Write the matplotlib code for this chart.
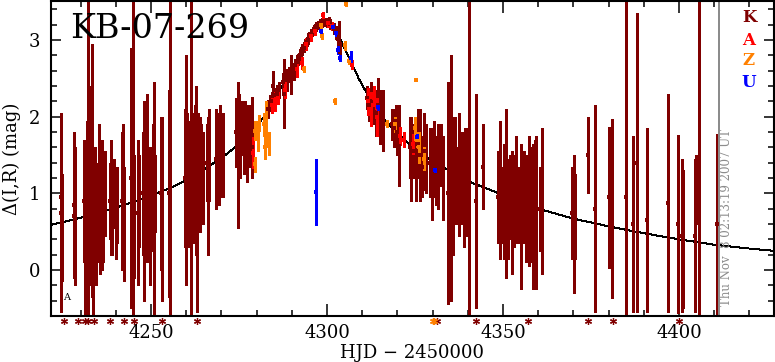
import matplotlib
matplotlib.use("Agg")
import matplotlib.pyplot as plt
from matplotlib.ticker import MultipleLocator

# ---- data (HJD-2450000, delta mag, error) ----
K_t = [4224.4, 4224.5, 4224.6, 4228.0, 4228.2, 4228.4, 4228.5,
       4231.0, 4231.3, 4231.8, 4232.2, 4232.6, 4233.0, 4233.3, 4233.6, 4234.0, 4234.4,
       4234.8, 4235.2, 4235.6, 4236.0, 4236.5, 4237.0,
       4238.3, 4238.6, 4239.0, 4239.5, 4240.0, 4240.4, 4241.7, 4242.0, 4242.3,
       4244.3, 4244.6, 4245.0, 4245.3, 4246.3, 4246.6,
       4247.8, 4248.1, 4248.4, 4248.7, 4249.0, 4249.3, 4249.6, 4249.9, 4250.2, 4250.5,
       4250.8, 4251.1, 4252.8, 4253.0, 4255.0, 4255.4,
       4259.6, 4259.9, 4260.2, 4260.5, 4260.8, 4261.1, 4261.5, 4261.8, 4262.1, 4262.4,
       4262.7, 4263.0, 4263.2, 4263.4, 4263.8, 4264.2, 4264.7,
       4266.0, 4266.2, 4266.5, 4268.5, 4268.8, 4269.2, 4269.6, 4270.0, 4270.5,
       4274.3, 4274.6, 4275.0, 4275.4, 4275.9, 4276.4, 4276.8, 4277.2, 4277.6, 4278.0,
       4278.4, 4278.6, 4278.8,
       4283.3, 4283.9, 4284.5, 4284.7, 4285.1, 4285.7, 4286.3, 4287.6, 4287.7, 4288.1,
       4288.6, 4289.1, 4289.8,
       4290.2, 4290.6, 4291.0, 4291.4, 4291.8, 4292.2, 4292.6, 4293.0, 4293.4, 4293.8,
       4294.2, 4294.6, 4295.0, 4295.4, 4295.8, 4296.2, 4296.6, 4297.0, 4297.5, 4298.0,
       4298.5, 4299.0, 4299.5, 4300.0, 4300.5, 4301.0, 4301.5, 4302.0, 4302.5, 4303.0,
       4303.5, 4303.8,
       4311.4, 4312.0, 4312.6, 4313.2, 4313.8, 4314.5, 4315.2, 4315.8,
       4318.5, 4319.0, 4319.5, 4320.0, 4320.5, 4320.6,
       4323.5, 4324.0, 4324.6, 4325.2, 4325.8, 4326.4, 4327.0, 4327.6, 4328.2,
       4329.2, 4329.8, 4330.4, 4331.0, 4331.6, 4332.3, 4333.0,
       4334.3, 4334.8, 4335.2, 4335.8, 4336.4, 4337.0, 4337.6,
       4338.2, 4338.8, 4339.3, 4339.8, 4340.4, 4342.3, 4344.3,
       4348.7, 4349.3, 4349.8, 4350.3, 4350.8, 4351.4, 4352.0, 4352.6, 4353.2, 4353.8,
       4354.5, 4355.2, 4355.9, 4356.6, 4357.3,
       4358.0, 4358.4, 4359.0, 4359.5, 4360.4, 4361.2,
       4369.6, 4370.2, 4370.6, 4374.1, 4376.1, 4380.1, 4380.9, 4384.9, 4387.0, 4388.0,
       4390.9, 4396.9, 4399.6, 4400.9, 4401.2, 4404.7, 4404.9, 4405.7, 4410.8]
K_m = [0.75, 0.95, 0.55, 0.85, 0.70, 1.05, 0.50,
       0.90, 0.50, 1.20, 1.50, 0.70, 1.20, 1.30, 0.40, 0.90, 0.60,
       0.75, 1.00, 0.55, 0.85, 0.70, 1.00,
       0.90, 0.95, 0.80, 1.00, 0.70, 0.85, 0.90, 1.10, 0.60,
       1.20, 0.85, 1.00, 0.70, 0.75, 0.90,
       1.00, 0.90, 1.10, 0.80, 1.20, 0.95, 0.70, 1.05, 0.85, 1.15,
       0.90, 1.00, 1.00, 0.80, 1.00, 1.20,
       1.20, 1.30, 1.45, 1.10, 1.35, 1.25, 1.00, 1.40, 1.20, 1.50,
       1.30, 0.60, 1.15, 1.45, 1.25, 1.35, 1.20,
       1.40, 1.10, 1.50, 1.45, 1.60, 1.35, 1.55, 1.40, 1.50,
       1.80, 1.50, 1.75, 1.60, 1.85, 1.70, 1.90, 1.65, 1.80, 1.75,
       1.85, 1.78, 1.60,
       2.10, 2.18, 2.20, 2.40, 2.28, 2.30, 2.35, 2.45, 2.30, 2.50,
       2.48, 2.55, 2.55,
       2.62, 2.58, 2.68, 2.72, 2.75, 2.80, 2.82, 2.88, 2.90, 2.95,
       2.98, 3.02, 3.05, 3.08, 3.10, 3.14, 3.15, 3.18, 3.20, 3.22,
       3.23, 3.25, 3.24, 3.23, 3.25, 3.21, 3.18, 3.15, 3.10, 3.02,
       3.05, 2.85,
       2.25, 2.15, 2.20, 2.10, 2.05, 2.15, 2.00, 1.95,
       1.90, 1.85, 1.95, 1.80, 1.62, 1.75,
       1.60, 1.45, 1.55, 1.40, 1.65, 1.50, 1.35, 1.55, 1.45,
       1.40, 1.25, 1.45, 1.30, 1.35, 1.50, 1.20,
       1.00, 0.90, 1.20, 1.10, 1.30, 1.10, 1.25,
       1.20, 1.05, 1.30, 1.15, 1.00, 0.90, 1.35,
       0.95, 1.05, 0.85, 0.90, 1.00, 0.80, 0.95, 0.75, 0.90, 1.05,
       0.85, 0.70, 0.95, 0.80, 0.90,
       0.85, 0.70, 0.90, 0.75, 0.80, 0.90,
       0.75, 0.60, 0.70, 1.50, 0.80, 0.95, 0.80, 0.95, 0.60, 1.40,
       0.65, 0.87, 0.60, 0.45, 0.40, 0.45, 1.05, 1.20, 0.60]
K_e = [1.30, 0.90, 0.70, 0.95, 0.60, 0.55, 0.70,
       0.80, 1.10, 0.75, 4.50, 0.90, 1.20, 1.65, 1.00, 0.70, 0.80,
       0.55, 0.90, 0.60, 0.85, 0.60, 0.55,
       0.50, 0.75, 0.60, 0.45, 0.55, 0.50, 0.90, 0.80, 0.75,
       1.70, 1.00, 4.50, 0.80, 0.95, 0.60,
       0.80, 1.30, 0.90, 0.60, 1.10, 0.50, 0.90, 0.45, 0.60, 0.75,
       1.55, 0.50, 1.00, 1.20, 1.35, 4.50,
       0.90, 1.50, 0.60, 0.80, 0.45, 0.70, 4.50, 0.55, 0.85, 0.65,
       1.10, 1.15, 0.50, 0.60, 0.75, 0.55, 0.60,
       0.50, 0.90, 0.60, 0.65, 0.45, 0.50, 0.60, 0.40, 0.55,
       0.45, 0.95, 0.55, 0.40, 0.35, 0.45, 0.30, 0.50, 0.35, 0.40,
       0.30, 0.48, 0.40,
       0.12, 0.10, 0.12, 0.20, 0.10, 0.12, 0.10, 0.12, 0.45, 0.10,
       0.14, 0.10, 0.25,
       0.08, 0.10, 0.07, 0.09, 0.07, 0.08, 0.06, 0.07, 0.06, 0.07,
       0.06, 0.07, 0.05, 0.06, 0.05, 0.06, 0.05, 0.06, 0.05, 0.05,
       0.06, 0.05, 0.05, 0.06, 0.05, 0.06, 0.05, 0.07, 0.08, 0.10,
       0.20, 0.12,
       0.15, 0.20, 0.25, 0.20, 0.30, 0.35, 0.35, 0.40,
       0.20, 0.25, 0.20, 0.30, 0.53, 0.20,
       0.40, 0.55, 0.35, 0.50, 0.45, 0.60, 0.40, 0.50, 0.45,
       0.45, 0.60, 0.50, 0.45, 0.55, 0.40, 0.55,
       1.45, 1.20, 1.60, 0.90, 0.70, 0.50, 0.80,
       0.60, 0.75, 0.55, 0.70, 4.50, 1.40, 0.56,
       0.60, 0.90, 0.50, 0.75, 1.10, 0.65, 0.55, 0.80, 0.60, 0.70,
       0.50, 0.95, 0.60, 0.70, 0.85,
       0.75, 0.95, 0.80, 1.00, 0.55, 0.95,
       0.60, 0.90, 0.55, 0.50, 1.35, 0.92, 1.17, 4.50, 1.15, 1.95,
       1.20, 1.42, 1.16, 1.00, 0.90, 1.00, 0.45, 4.50, 1.17]

A_t = [4279.0, 4284.3, 4285.2, 4286.0, 4288.0, 4291.5, 4292.8, 4294.0, 4295.5, 4296.5,
       4298.8, 4300.3, 4301.5, 4307.0, 4311.6, 4312.5, 4313.5, 4314.2, 4320.8, 4321.8,
       4324.5]
A_m = [1.53, 2.15, 2.20, 2.25, 2.35, 2.62, 2.70, 2.95, 3.05, 3.12,
       3.33, 3.22, 3.18, 2.68, 2.20, 2.10, 2.25, 2.00, 1.75, 1.70,
       1.65]
A_e = [0.20, 0.10, 0.12, 0.08, 0.10, 0.10, 0.08, 0.08, 0.06, 0.05,
       0.04, 0.05, 0.05, 0.06, 0.18, 0.22, 0.15, 0.25, 0.12, 0.10,
       0.13]

Z_t = [4279.5, 4279.6, 4280.3, 4280.7, 4282.0, 4282.5, 4282.7, 4283.5, 4293.5, 4298.3,
       4298.6, 4302.4, 4305.1, 4305.4, 4306.3, 4317.1, 4319.3, 4325.0, 4325.3, 4325.6,
       4326.2, 4327.5]
Z_m = [1.38, 1.82, 1.75, 1.92, 1.90, 1.60, 1.90, 1.65, 2.62, 3.20,
       3.05, 2.20, 2.93, 3.47, 2.73, 1.91, 1.90, 1.85, 2.48, 1.70,
       1.60, 1.45]
Z_e = [0.10, 0.12, 0.20, 0.10, 0.15, 0.15, 0.30, 0.15, 0.04, 0.05,
       0.04, 0.04, 0.06, 0.03, 0.04, 0.05, 0.10, 0.15, 0.02, 0.10,
       0.20, 0.15]

U_t = [4297.0, 4298.4, 4301.7, 4302.6, 4303.1, 4303.6, 4306.7, 4314.5, 4325.5, 4330.7]
U_m = [1.02, 3.12, 3.17, 3.09, 2.87, 2.77, 2.76, 2.13, 1.73, 1.30]
U_e = [0.43, 0.03, 0.04, 0.04, 0.05, 0.04, 0.10, 0.04, 0.05, 0.02]

# points fainter than the plot floor (drawn as asterisks under the axis)
K_low_t = [4225.4, 4229.3, 4231.3, 4232.1, 4233.8, 4238.4, 4242.3, 4245.2, 4253.1, 4263.2,
           4331.2, 4342.4, 4357.2, 4374.1, 4381.2, 4400.0]
Z_low_t = [4330.0, 4330.4]

# model light curve
model_t = [4221.6, 4230, 4240, 4250, 4256, 4260, 4265, 4270, 4275, 4280, 4283, 4286, 4290,
           4293, 4296, 4298, 4299.5, 4301, 4303, 4306, 4309, 4312, 4316, 4320, 4325, 4330,
           4335, 4340, 4350, 4360, 4370, 4380, 4390, 4400, 4410, 4420, 4427]
model_m = [0.59, 0.68, 0.81, 0.97, 1.08, 1.17, 1.31, 1.46, 1.64, 1.88, 2.05, 2.30, 2.62,
           2.88, 3.10, 3.22, 3.27, 3.22, 3.08, 2.80, 2.50, 2.25, 1.98, 1.78, 1.58, 1.42,
           1.29, 1.16, 0.98, 0.80, 0.67, 0.57, 0.48, 0.40, 0.33, 0.28, 0.25]

site_names = ["K", "A", "Z", "U"]
site_colors = ["#800000", "#ff0000", "#ff8000", "#0000ff"]
stamp_t = 4411.4
stamp_text = "Thu Nov  8 02:13:19 2007 UT"
XMIN, XMAX = 4221.6, 4427.0
YMIN, YMAX = -0.60, 3.51

plt.rcParams["font.family"] = ["DejaVu Serif", "DejaVu Sans"]
plt.rcParams["lines.antialiased"] = False

fig = plt.figure(figsize=(7.75, 3.62), dpi=100)
ax = fig.add_axes([0.0658, 0.1271, 0.9329, 0.8702])

ax.plot(model_t, model_m, color="black", lw=0.7, zorder=1)

datasets = [(K_t, K_m, K_e), (A_t, A_m, A_e), (Z_t, Z_m, Z_e), (U_t, U_m, U_e)]
for (t, m, e), col in zip(datasets, site_colors):
    ax.errorbar(t, m, yerr=e, fmt="s", ms=2.2, mew=0, color=col, ecolor=col,
                elinewidth=1.0, capsize=1.6, capthick=1.0, zorder=2)

y_low = YMIN - 0.07
ax.plot(K_low_t, [y_low] * len(K_low_t), ls="none", marker=(6, 2, 0), ms=5, mew=0.9,
        color=site_colors[0], clip_on=False)
ax.plot(Z_low_t, [y_low] * len(Z_low_t), ls="none", marker=(6, 2, 0), ms=5, mew=0.9,
        color=site_colors[2], clip_on=False)

ax.axvline(stamp_t, color="#8c8c8c", lw=1.3)
ax.text(0.935, 0.032, stamp_text, transform=ax.transAxes, rotation=90, ha="center",
        va="bottom", fontsize=8.5, color="#8c8c8c")

ax.text(0.0263, 0.8825, "KB-07-269", transform=ax.transAxes, fontsize=24, va="baseline")
ax.text(4226.0, -0.365, "A", fontsize=7, ha="center", va="center")

legend_y = [0.949, 0.876, 0.810, 0.740]
for name, col, ly in zip(site_names, site_colors, legend_y):
    ax.text(0.9654, ly, name, transform=ax.transAxes, color=col, fontsize=12,
            fontweight="bold", ha="center", va="center")

ax.set_xlim(XMIN, XMAX)
ax.set_ylim(YMIN, YMAX)
ax.xaxis.set_major_locator(MultipleLocator(50))
ax.xaxis.set_minor_locator(MultipleLocator(10))
ax.yaxis.set_major_locator(MultipleLocator(1))
ax.yaxis.set_minor_locator(MultipleLocator(0.2))
ax.tick_params(which="both", direction="in", top=True, right=True, width=1.1, labelsize=13)
ax.tick_params(axis="x", which="major", length=8.5, pad=6)
ax.tick_params(axis="x", which="minor", length=4.3)
ax.tick_params(axis="y", which="major", length=7, pad=7.5)
ax.tick_params(axis="y", which="minor", length=4)
for s in ax.spines.values():
    s.set_linewidth(1.5)

ax.set_xlabel("HJD \u2212 2450000", fontsize=13, labelpad=1)
ax.set_ylabel("\u0394(I,R) (mag)", fontsize=13, labelpad=6)

fig.savefig("out.png", dpi=100)
